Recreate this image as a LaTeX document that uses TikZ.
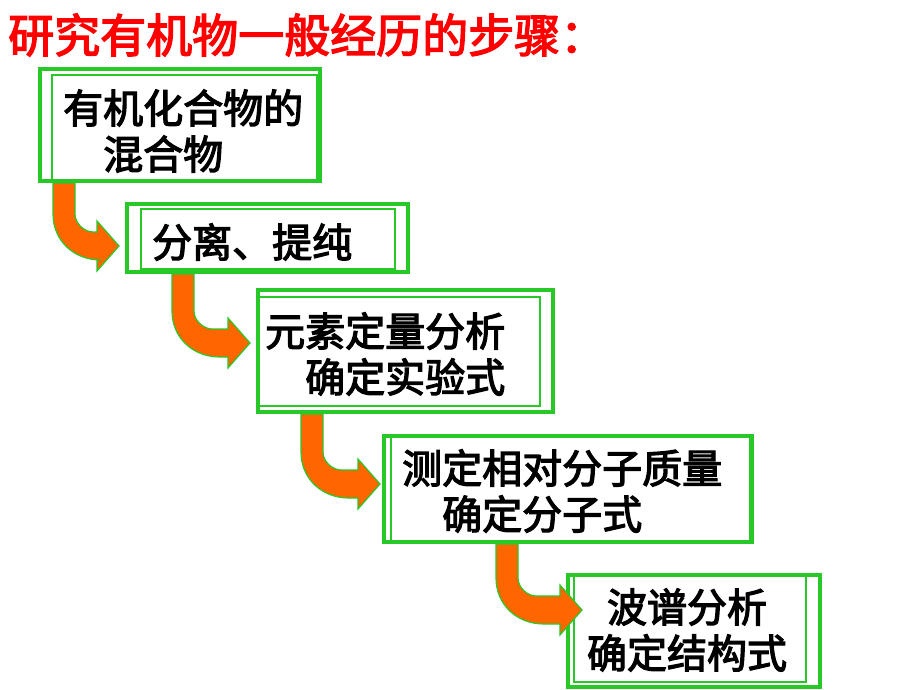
\documentclass[tikz,border=0pt]{standalone}
\usepackage{fontspec}
\newfontfamily\cjk[FakeBold=3]{Noto Sans CJK SC}
\usetikzlibrary{positioning, calc}

\definecolor{boxgreen}{RGB}{40,200,40}
\definecolor{arroworange}{RGB}{255,102,0}

\tikzset{
  stepbox/.style={draw=boxgreen, line width=4pt, inner sep=0pt},
  inframe/.style={draw=boxgreen, line width=1.2pt},
  steptext/.style={inner sep=0pt, align=left, font=\cjk\fontsize{40}{46}\selectfont},
  bendfill/.style={fill=arroworange, draw=boxgreen, line width=1.2pt, line join=miter}
}

% bent block arrow: #1 top left of the stem, #2 the tip
\newcommand{\bendarrow}[2]{%
  \filldraw[bendfill] let \p1 = #1, \p2 = #2 in
    (\x1,\y1) -- (\x1+22pt,\y1) -- (\x1+22pt,\y2+32pt)
    .. controls (\x1+22pt,\y2+22pt) and (\x1+32pt,\y2+14pt) .. (\x1+40pt,\y2+14pt)
    -- (\x2-22pt,\y2+14pt) -- (\x2-22pt,\y2+25pt) -- (\x2,\y2)
    -- (\x2-22pt,\y2-25pt) -- (\x2-22pt,\y2-14pt) -- (\x1+48pt,\y2-14pt)
    .. controls (\x1+20pt,\y2-14pt) and (\x1,\y2+6pt) .. (\x1,\y2+32pt) -- cycle;
}

\begin{document}
\begin{tikzpicture}[x=1pt, y=-1pt]
  \useasboundingbox (0,0) rectangle (920,690);

  \node[anchor=west, inner sep=0pt, text=red, font=\cjk\fontsize{46}{52}\selectfont] (title) at (8,35) {研究有机物一般经历的步骤：};

  % frames
  \node[stepbox, minimum width=280, minimum height=112] (box1) at (180,125) {};
  \node[stepbox, minimum width=281, minimum height=68] (box2) at (267.5,238) {};
  \node[stepbox, minimum width=295, minimum height=122] (box3) at (405.5,351) {};
  \node[stepbox, minimum width=368, minimum height=106] (box4) at (568,489) {};
  \node[stepbox, minimum width=252, minimum height=112] (box5) at (694,631) {};

  \draw[inframe] ($(box1.north west)+(14,8)$) rectangle ($(box1.south east)+(-5,-3)$);
  \draw[inframe] ($(box2.north west)+(16,7)$) rectangle ($(box2.south east)+(-15,-5)$);
  \draw[inframe] ($(box3.north west)+(3,9)$) rectangle ($(box3.south east)+(-15,-8)$);
  \draw[inframe] ($(box4.north west)+(9,2)$) rectangle ($(box4.south east)+(-4,-3)$);
  \draw[inframe] ($(box5.north west)+(8,3)$) rectangle ($(box5.south east)+(-16,-7)$);

  % texts
  \node[steptext, anchor=west] (txt1) at (63,131) {有机化合物的\\\hspace*{1em}混合物};
  \node[steptext, anchor=west] (txt2) at (152,242) {分离、提纯};
  \node[steptext, anchor=west] (txt3) at (265,354) {元素定量分析\\\hspace*{1em}确定实验式};
  \node[steptext, anchor=west] (txt4) at (402,491) {测定相对分子质量\\\hspace*{1em}确定分子式};
  \node[steptext, align=center] (txt5) at (687,630) {波谱分析\\确定结构式};

  % arrows
  \bendarrow{($(box1.south west)+(15,0)$)}{($(box2.west)+(-6,8)$)}
  \bendarrow{($(box2.south west)+(47,0)$)}{($(box3.west)+(-6,-8)$)}
  \bendarrow{($(box3.south west)+(45,0)$)}{($(box4.west)+(-2,-5)$)}
  \bendarrow{($(box4.south west)+(114,0)$)}{($(box5.west)+(16,-21)$)}
\end{tikzpicture}
\end{document}
